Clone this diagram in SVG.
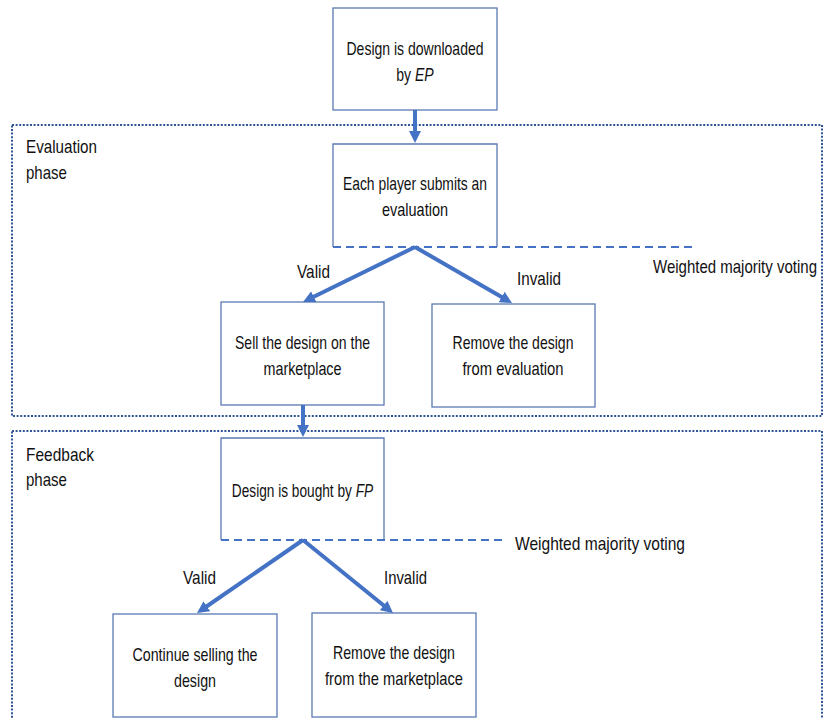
<svg xmlns="http://www.w3.org/2000/svg" width="825" height="719" viewBox="0 0 825 719">
<style>
.box{fill:#fff;stroke:#5b79b3;stroke-width:1.3}
.open{fill:none;stroke:#5b79b3;stroke-width:1.3}
.phase{fill:none;stroke:#2f5597;stroke-width:2;stroke-dasharray:2 1.6}
.vote{fill:none;stroke:#4472c4;stroke-width:2;stroke-dasharray:8 5}
.arr{fill:none;stroke:#4472c4;stroke-width:4;marker-end:url(#ah)}
.bt{font-family:"Liberation Sans",Arial,sans-serif;font-size:19px;fill:#111;text-anchor:middle}
.lb{font-family:"Liberation Sans",Arial,sans-serif;font-size:19px;fill:#111}
</style>
<defs>
<marker id="ah" viewBox="0 0 12 12" markerWidth="12" markerHeight="12" markerUnits="userSpaceOnUse" refX="4" refY="6" orient="auto">
<path d="M0,0 L12,6 L0,12 z" fill="#4472c4"/>
</marker>
</defs>
<g id="phases">
<rect id="evaluation-phase" class="phase" x="12" y="125" width="810" height="291"/>
<rect id="feedback-phase" class="phase" x="12" y="431" width="810" height="300"/>
<text class="lb" x="26" y="153" textLength="71" lengthAdjust="spacingAndGlyphs">Evaluation</text>
<text class="lb" x="26" y="179" textLength="41" lengthAdjust="spacingAndGlyphs">phase</text>
<text class="lb" x="26" y="461" textLength="68" lengthAdjust="spacingAndGlyphs">Feedback</text>
<text class="lb" x="26" y="486" textLength="41" lengthAdjust="spacingAndGlyphs">phase</text>
</g>
<g id="n1">
<rect class="box" x="333" y="8" width="164" height="102"/>
<text class="bt" x="415" y="55" textLength="137" lengthAdjust="spacingAndGlyphs">Design is downloaded</text>
<text class="bt" transform="translate(415,81) scale(0.74,1)" x="0" y="0">by <tspan font-style="italic">EP</tspan></text>
</g>
<g id="n2">
<path class="open" d="M333,247 V144 H497 V247"/>
<text class="bt" x="415" y="190" textLength="144" lengthAdjust="spacingAndGlyphs">Each player submits an</text>
<text class="bt" x="415" y="216" textLength="66" lengthAdjust="spacingAndGlyphs">evaluation</text>
</g>
<g id="n3">
<rect class="box" x="221" y="302" width="163" height="103"/>
<text class="bt" x="302.5" y="349" textLength="135" lengthAdjust="spacingAndGlyphs">Sell the design on the</text>
<text class="bt" x="302.5" y="375" textLength="78" lengthAdjust="spacingAndGlyphs">marketplace</text>
</g>
<g id="n4">
<rect class="box" x="432" y="304" width="163" height="103"/>
<text class="bt" x="513" y="349" textLength="121" lengthAdjust="spacingAndGlyphs">Remove the design</text>
<text class="bt" x="513" y="375" textLength="101" lengthAdjust="spacingAndGlyphs">from evaluation</text>
</g>
<g id="n5">
<path class="open" d="M221,540 V438 H384 V540"/>
<text class="bt" transform="translate(302.5,497) scale(0.72,1)" x="0" y="0">Design is bought by <tspan font-style="italic">FP</tspan></text>
</g>
<g id="n6">
<rect class="box" x="113" y="614" width="164" height="103"/>
<text class="bt" x="195" y="661" textLength="125" lengthAdjust="spacingAndGlyphs">Continue selling the</text>
<text class="bt" x="195" y="687" textLength="42" lengthAdjust="spacingAndGlyphs">design</text>
</g>
<g id="n7">
<rect class="box" x="312" y="613" width="164" height="104"/>
<text class="bt" x="394" y="659" textLength="122" lengthAdjust="spacingAndGlyphs">Remove the design</text>
<text class="bt" x="394" y="685" textLength="138" lengthAdjust="spacingAndGlyphs">from the marketplace</text>
</g>
<g id="connectors">
<line class="vote" x1="333" y1="247" x2="693" y2="247"/>
<line class="vote" x1="221" y1="540" x2="506" y2="540"/>
<line class="arr" x1="415" y1="110" x2="415" y2="135"/>
<line class="arr" x1="415" y1="247" x2="310.2" y2="298.5"/>
<line class="arr" x1="415" y1="247" x2="505.1" y2="299"/>
<line class="arr" x1="303" y1="405" x2="303" y2="429"/>
<line class="arr" x1="303" y1="540" x2="203.6" y2="608.5"/>
<line class="arr" x1="303" y1="540" x2="386.8" y2="608"/>
<text class="lb" x="297" y="278" textLength="33" lengthAdjust="spacingAndGlyphs">Valid</text>
<text class="lb" x="517" y="285" textLength="44" lengthAdjust="spacingAndGlyphs">Invalid</text>
<text class="lb" x="653" y="273" textLength="164" lengthAdjust="spacingAndGlyphs">Weighted majority voting</text>
<text class="lb" x="183" y="584" textLength="33" lengthAdjust="spacingAndGlyphs">Valid</text>
<text class="lb" x="384" y="584" textLength="43" lengthAdjust="spacingAndGlyphs">Invalid</text>
<text class="lb" x="515" y="550" textLength="170" lengthAdjust="spacingAndGlyphs">Weighted majority voting</text>
</g>
</svg>
